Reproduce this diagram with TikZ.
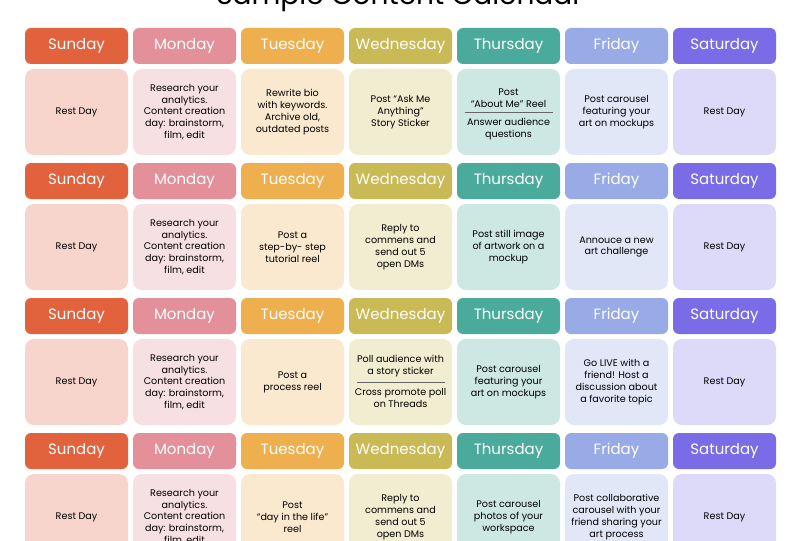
\documentclass[tikz,border=0pt]{standalone}
\usepackage{fontspec}
\setmainfont{Poppins}
\usetikzlibrary{positioning}
\definecolor{sunH}{HTML}{E2623E}\definecolor{sunB}{HTML}{F7D5CC}
\definecolor{monH}{HTML}{E3909A}\definecolor{monB}{HTML}{F7E0E3}
\definecolor{tueH}{HTML}{EEB04E}\definecolor{tueB}{HTML}{FAE9CF}
\definecolor{wedH}{HTML}{C9BA56}\definecolor{wedB}{HTML}{F1EDD0}
\definecolor{thuH}{HTML}{4AAA9C}\definecolor{thuB}{HTML}{CDE8E3}
\definecolor{friH}{HTML}{98ABE6}\definecolor{friB}{HTML}{E2E7F8}
\definecolor{satH}{HTML}{7A6CE6}\definecolor{satB}{HTML}{DDD9F8}
\begin{document}
\begin{tikzpicture}[x=1pt,y=-1pt,
    dayhead/.style={rectangle, rounded corners=6pt, minimum width=103pt, minimum height=36pt, text=white, font=\fontsize{15}{15}\selectfont},
    daybody/.style={rectangle, rounded corners=9pt, minimum width=103pt, minimum height=86pt},
    cell/.style={align=center, font=\fontsize{9.6}{11.8}\selectfont}]
  \useasboundingbox (0,0) rectangle (799,540);
  \clip (0,0) rectangle (799,540);
  % Title
  \node[font=\fontsize{28}{28}\selectfont] (title) at (399.5,-2) {Sample Content Calendar};
  % Headers and body boxes
  \foreach \r in {0,...,3}{
    \foreach \d/\c [count=\i from 0] in {Sunday/sun,Monday/mon,Tuesday/tue,Wednesday/wed,Thursday/thu,Friday/fri,Saturday/sat}{
      \node[dayhead, fill=\c H] (h\r\i) at (76.5+108*\i, 46+135*\r) {\d};
      \node[daybody, fill=\c B] (b\r\i) at (76.5+108*\i, 112+135*\r) {};
    }
  }
  % Week 1
  \node[cell] at (b00) {Rest Day};
  \node[cell] at (b01) {Research your\\analytics.\\Content creation\\day: brainstorm,\\film, edit};
  \node[cell] at (b02) {Rewrite bio\\with keywords.\\Archive old,\\outdated posts};
  \node[cell] at (b03) {Post “Ask Me\\Anything”\\Story Sticker};
  \node[cell] (t1a) at ([yshift=14pt]b04) {Post\\“About Me” Reel};
  \node[cell] (t1b) at ([yshift=-17pt]b04) {Answer audience\\questions};
  \draw[black!60] ([xshift=-44pt]b04.center) -- ([xshift=44pt]b04.center);
  \node[cell] at (b05) {Post carousel\\featuring your\\art on mockups};
  \node[cell] at (b06) {Rest Day};
  % Week 2
  \node[cell] at (b10) {Rest Day};
  \node[cell] at (b11) {Research your\\analytics.\\Content creation\\day: brainstorm,\\film, edit};
  \node[cell] at (b12) {Post a\\step-by- step\\tutorial reel};
  \node[cell] at (b13) {Reply to\\commens and\\send out 5\\open DMs};
  \node[cell] at (b14) {Post still image\\of artwork on a\\mockup};
  \node[cell] at (b15) {Annouce a new\\art challenge};
  \node[cell] at (b16) {Rest Day};
  % Week 3
  \node[cell] at (b20) {Rest Day};
  \node[cell] at (b21) {Research your\\analytics.\\Content creation\\day: brainstorm,\\film, edit};
  \node[cell] at (b22) {Post a\\process reel};
  \node[cell] (w3a) at ([yshift=16pt]b23) {Poll audience with\\a story sticker};
  \node[cell] (w3b) at ([yshift=-16pt]b23) {Cross promote poll\\on Threads};
  \draw[black!60] ([xshift=-44pt]b23.center) -- ([xshift=44pt]b23.center);
  \node[cell] at (b24) {Post carousel\\featuring your\\art on mockups};
  \node[cell] at (b25) {Go LIVE with a\\friend! Host a\\discussion about\\a favorite topic};
  \node[cell] at (b26) {Rest Day};
  % Week 4
  \node[cell] at (b30) {Rest Day};
  \node[cell] at (b31) {Research your\\analytics.\\Content creation\\day: brainstorm,\\film, edit};
  \node[cell] at (b32) {Post\\“day in the life”\\reel};
  \node[cell] at (b33) {Reply to\\commens and\\send out 5\\open DMs};
  \node[cell] at (b34) {Post carousel\\photos of your\\workspace};
  \node[cell] at (b35) {Post collaborative\\carousel with your\\friend sharing your\\art process};
  \node[cell] at (b36) {Rest Day};
\end{tikzpicture}
\end{document}
